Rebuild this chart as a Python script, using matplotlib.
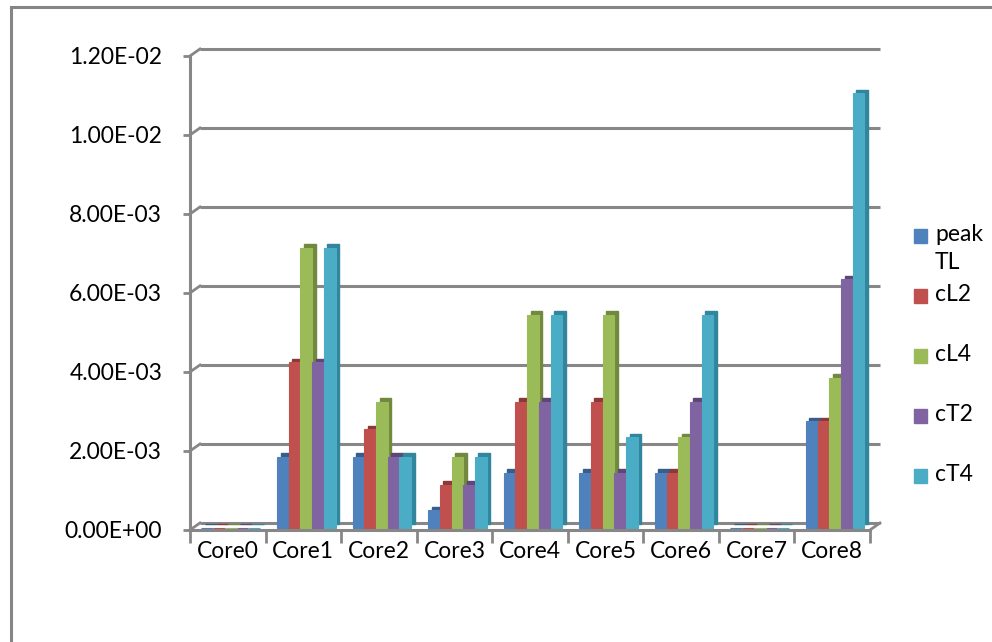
import matplotlib
matplotlib.use("Agg")
import matplotlib.pyplot as plt
import matplotlib.transforms as mtransforms
from matplotlib.patches import Rectangle
from matplotlib.ticker import FuncFormatter
import numpy as np

plt.rcParams['font.family'] = ['Lato', 'DejaVu Sans']

# data
cores = ["Core0", "Core1", "Core2", "Core3", "Core4", "Core5", "Core6", "Core7", "Core8"]
series_names = ["peak\nTL", "cL2", "cL4", "cT2", "cT4"]
peak_tl = [0.0, 1.8e-3, 1.8e-3, 0.45e-3, 1.4e-3, 1.4e-3, 1.4e-3, 0.0, 2.7e-3]
cl2 = [0.0, 4.2e-3, 2.5e-3, 1.1e-3, 3.2e-3, 3.2e-3, 1.4e-3, 0.0, 2.7e-3]
cl4 = [0.0, 7.1e-3, 3.2e-3, 1.8e-3, 5.4e-3, 5.4e-3, 2.3e-3, 0.0, 3.8e-3]
ct2 = [0.0, 4.2e-3, 1.8e-3, 1.1e-3, 3.2e-3, 1.4e-3, 3.2e-3, 0.0, 6.3e-3]
ct4 = [0.0, 7.1e-3, 1.8e-3, 1.8e-3, 5.4e-3, 2.3e-3, 5.4e-3, 0.0, 1.1e-2]
series = [peak_tl, cl2, cl4, ct2, ct4]
y_ticks = [0.0, 2e-3, 4e-3, 6e-3, 8e-3, 1e-2, 1.2e-2]

face_colors = ["#4F81BD", "#C0504D", "#9BBB59", "#8064A2", "#4BACC6"]
side_colors = ["#385D8A", "#8C3836", "#71893F", "#5C4776", "#31859C"]
grid_color = "#878787"
fs = 16.5

fig = plt.figure(figsize=(9.92, 6.42), dpi=100)
ax = fig.add_axes([0.1915, 0.1745, 0.6855, 0.7383])
ax.set_xlim(-0.5, 8.5)
ax.set_ylim(0, 0.012)
ax.patch.set_visible(False)

# outer chart border
fig.add_artist(Rectangle((11 / 992, -0.1), 1.2, 635 / 642 + 0.1, transform=fig.transFigure,
                         fill=False, edgecolor="#858585", linewidth=2.2))

# back wall gridlines, pushed back into depth
back = ax.transData + mtransforms.ScaledTranslation(0.10, 0.07, fig.dpi_scale_trans)
inv = ax.transData.inverted()
for v in y_ticks:
    ax.plot([-0.5, 8.5], [v, v], transform=back, color=grid_color, lw=2.2,
            clip_on=False, zorder=1, solid_capstyle="butt")
    p0 = ax.transData.transform((-0.5, v))
    p1 = inv.transform(p0 + np.array([10, 7]))
    ax.plot([-0.5, p1[0]], [v, p1[1]], color=grid_color, lw=2.0, clip_on=False, zorder=1)
# right edge of the floor
p0 = ax.transData.transform((8.5, 0))
p1 = inv.transform(p0 + np.array([10, 7]))
ax.plot([8.5, p1[0]], [0, p1[1]], color=grid_color, lw=2.0, clip_on=False, zorder=1)

# bars with a darker offset copy for the side and top faces
x = np.arange(len(cores))
w = 0.155
bar_shift = mtransforms.ScaledTranslation(0.03, 0.02, fig.dpi_scale_trans)
side_shift = mtransforms.ScaledTranslation(0.065, 0.055, fig.dpi_scale_trans)
for i, vals in enumerate(series):
    pos = x + (i - 2) * w
    ax.bar(pos, vals, width=w, color=side_colors[i], edgecolor=side_colors[i], linewidth=1,
           transform=ax.transData + side_shift, zorder=2, clip_on=False)
for i, vals in enumerate(series):
    pos = x + (i - 2) * w
    ax.bar(pos, vals, width=w, color=face_colors[i], edgecolor=face_colors[i], linewidth=0.8,
           transform=ax.transData + bar_shift, zorder=3, clip_on=False)

# axes
for s in ["top", "right"]:
    ax.spines[s].set_visible(False)
for s in ["left", "bottom"]:
    ax.spines[s].set_color(grid_color)
    ax.spines[s].set_linewidth(2.2)
    ax.spines[s].set_zorder(4)

ax.set_yticks(y_ticks)
ax.yaxis.set_major_formatter(FuncFormatter(lambda v, p: f"{v:.2E}"))
ax.tick_params(axis="y", length=5, width=2, color=grid_color, pad=15, labelsize=fs)

ax.set_xticks(x)
ax.set_xticklabels(cores)
ax.set_xticks(np.arange(-0.5, 9, 1), minor=True)
ax.tick_params(axis="x", which="major", length=0, pad=8, labelsize=fs)
ax.tick_params(axis="x", which="minor", length=9, width=2, color=grid_color)

# legend
for i, name in enumerate(series_names):
    yc = 1 - (236 + 60 * i) / 642
    fig.add_artist(Rectangle((914 / 992, yc - 7 / 642), 13 / 992, 14 / 642,
                             transform=fig.transFigure, color=face_colors[i]))
    fig.text(935 / 992, yc + 12 / 642, name, fontsize=fs, va="top", ha="left",
             linespacing=1.4)

fig.savefig("out.png", dpi=100)
